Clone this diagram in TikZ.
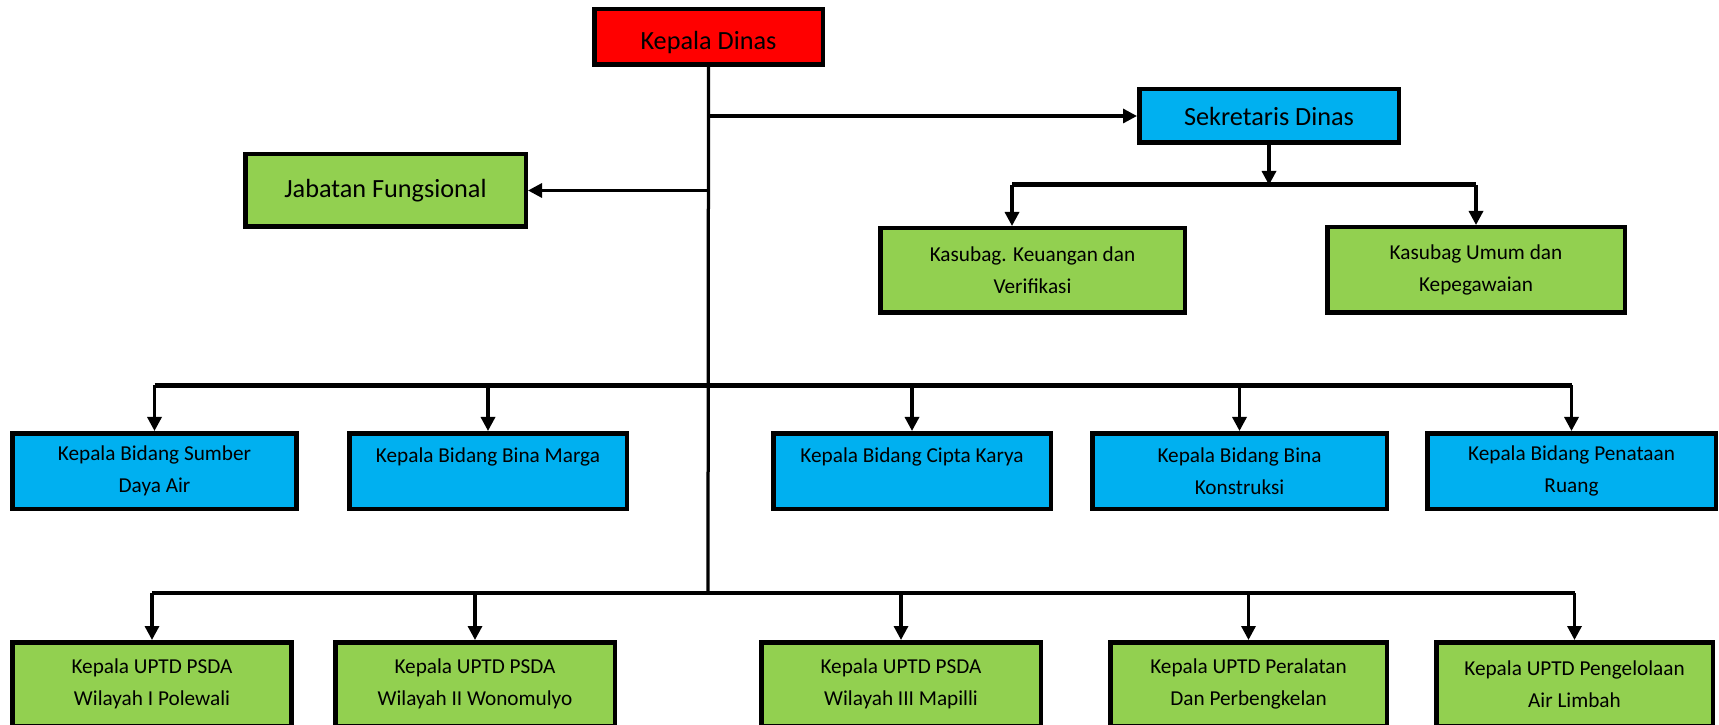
\documentclass[tikz,border=0pt]{standalone}
\usepackage{fontspec}
\setmainfont{Carlito}
\usetikzlibrary{arrows.meta, positioning}
\definecolor{kdred}{HTML}{FF0000}
\definecolor{kdblue}{HTML}{00B0F0}
\definecolor{kdgreen}{HTML}{92D050}

\begin{document}
\begin{tikzpicture}[
  x=0.4pt, y=-0.4pt,
  every node/.style={font=\fontsize{8.5}{12.7}\selectfont},
  unit/.style={rectangle, draw=black, fill=#1, line width=1.8pt, align=center, inner sep=2pt},
  big/.style={font=\fontsize{10.5}{12.6}\selectfont},
  edge/.style={-{Triangle[length=5.6pt, width=5.6pt]}, line width=1.3pt},
  bus/.style={line width=2pt},
]
\useasboundingbox (0,0) rectangle (1719,725);
\clip (0,0) rectangle (1719,725);

% Head of office
\node[unit=kdred, big, minimum width=91.4pt, minimum height=22.2pt, text height=12pt, text depth=2.3pt] (kadis) at (708.5,37) {Kepala Dinas};
\node[unit=kdblue, big, minimum width=103.8pt, minimum height=21.4pt] (sekdis) at (1269,116) {Sekretaris Dinas};
\node[unit=kdgreen, big, minimum width=112.2pt, minimum height=29pt] (jabfung) at (385.5,190.5) {Jabatan Fungsional};

% Secretariat sub-units
\node[unit=kdgreen, minimum width=121.8pt, minimum height=33.8pt] (ksb1) at (1032.5,270.5) {Kasubag. Keuangan dan\\Verifikasi};
\node[unit=kdgreen, minimum width=119pt, minimum height=34.2pt] (ksb2) at (1476,270) {Kasubag Umum dan\\Kepegawaian};

% Bidang
\node[unit=kdblue, minimum width=113.4pt, minimum height=30.2pt] (bid1) at (154.5,471) {Kepala Bidang Sumber\\Daya Air};
\node[unit=kdblue, minimum width=111pt, minimum height=30.2pt] (bid2) at (488,471) {Kepala Bidang Bina Marga\\~};
\node[unit=kdblue, minimum width=111pt, minimum height=30.2pt] (bid3) at (912,471) {Kepala Bidang Cipta Karya\\~};
\node[unit=kdblue, minimum width=117.8pt, minimum height=30.2pt] (bid4) at (1239.5,471) {Kepala Bidang Bina\\Konstruksi};
\node[unit=kdblue, minimum width=115.4pt, minimum height=30.2pt] (bid5) at (1571.5,471) {Kepala Bidang Penataan\\Ruang};

% UPTD
\node[unit=kdgreen, minimum width=111.4pt, minimum height=33.4pt] (upt1) at (152,684) {Kepala UPTD PSDA\\Wilayah I Polewali};
\node[unit=kdgreen, minimum width=111.8pt, minimum height=33.4pt] (upt2) at (475,684) {Kepala UPTD PSDA\\Wilayah II Wonomulyo};
\node[unit=kdgreen, minimum width=111.8pt, minimum height=33.4pt] (upt3) at (901,684) {Kepala UPTD PSDA\\Wilayah III Mapilli};
\node[unit=kdgreen, minimum width=110.6pt, minimum height=33.4pt] (upt4) at (1248.5,684) {Kepala UPTD Peralatan\\Dan Perbengkelan};
\node[unit=kdgreen, minimum width=110.6pt, minimum height=33.4pt] (upt5) at (1574.5,684) {Kepala UPTD Pengelolaan\\Air Limbah};

% Bus lines
\coordinate (busB) at (708,385);
\coordinate (busU) at (708,593);
\coordinate (ka) at (1012,185);
\coordinate (kb) at (1476,185);

\draw[line width=1.3pt] (kadis.south) -- (busU);
\draw[edge] (kadis.south |- sekdis.west) -- (sekdis.west);
\draw[edge] (kadis.south |- jabfung.east) -- (jabfung.east);

\draw[bus] (ka) -- (kb);
\draw[edge] (sekdis.south) -- (sekdis.south |- ka);
\draw[edge] (ka) -- (ka |- ksb1.north);
\draw[edge] (kb) -- (ksb2.north);

\draw[bus] (bid1.north |- busB) -- (bid5.north |- busB);
\draw[edge] (bid1.north |- busB) -- (bid1.north);
\draw[edge] (bid2.north |- busB) -- (bid2.north);
\draw[edge] (bid3.north |- busB) -- (bid3.north);
\draw[edge] (bid4.north |- busB) -- (bid4.north);
\draw[edge] (bid5.north |- busB) -- (bid5.north);

\draw[line width=1.6pt] (upt1.north |- busU) -- (upt5.north |- busU);
\draw[edge] (upt1.north |- busU) -- (upt1.north);
\draw[edge] (upt2.north |- busU) -- (upt2.north);
\draw[edge] (upt3.north |- busU) -- (upt3.north);
\draw[edge] (upt4.north |- busU) -- (upt4.north);
\draw[edge] (upt5.north |- busU) -- (upt5.north);

\end{tikzpicture}
\end{document}
